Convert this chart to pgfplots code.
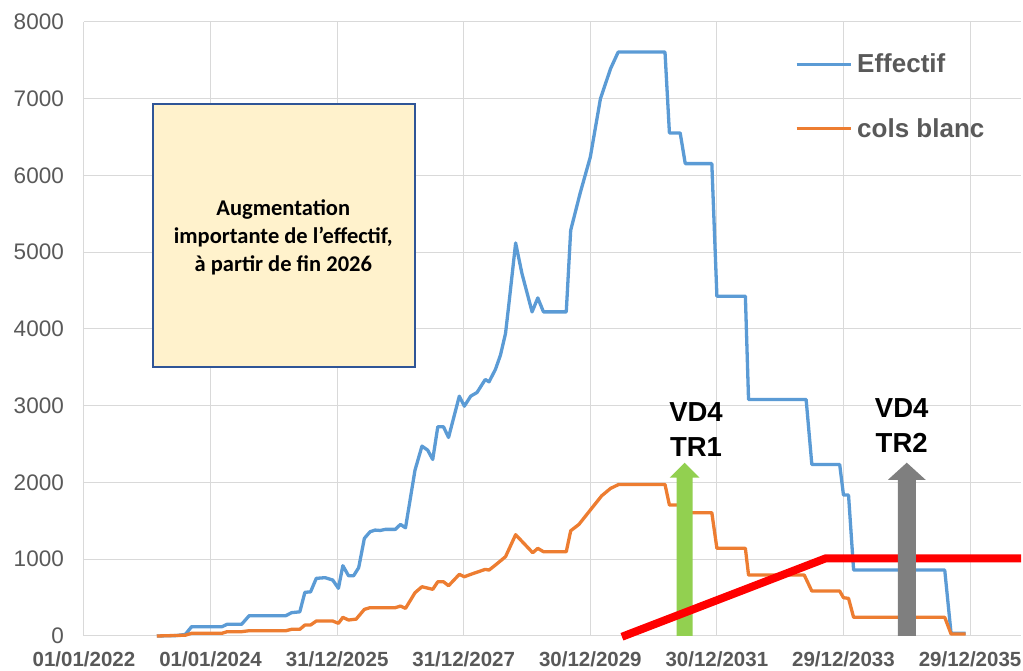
\documentclass[border=0pt]{standalone}
\usepackage{fontspec}
\setmainfont{Liberation Sans}
\newfontfamily\carlito{Carlito}
\usepackage{pgfplots}
\pgfplotsset{compat=1.18}
\definecolor{cblue}{HTML}{5B9BD5}
\definecolor{corange}{HTML}{ED7D31}
\definecolor{cgreen}{HTML}{92D050}
\definecolor{cgray}{HTML}{7F7F7F}
\definecolor{textgray}{HTML}{595959}
\definecolor{gridgray}{HTML}{D9D9D9}
\definecolor{axisgray}{HTML}{BFBFBF}
\definecolor{boxfill}{HTML}{FFF2CC}
\definecolor{boxline}{HTML}{2F5597}
\begin{document}
\begin{tikzpicture}
\useasboundingbox (-84pt,-35pt) rectangle (939pt,636pt);
\begin{axis}[
  scale only axis,
  width=937pt, height=614pt,
  xmin=0, xmax=14.805, ymin=0, ymax=8000,
  clip=false,
  axis line style={draw=none},
  tick style={draw=none},
  major tick length=0pt,
  grid=major,
  major grid style={color=gridgray, line width=1pt},
  xtick={0,2,4,6,8,10,12,14},
  xticklabels={01/01/2022,01/01/2024,31/12/2025,31/12/2027,30/12/2029,30/12/2031,29/12/2033,29/12/2035},
  ytick={0,1000,2000,3000,4000,5000,6000,7000,8000},
  yticklabels={0,1000,2000,3000,4000,5000,6000,7000,8000},
  extra y ticks={0},
  extra y tick labels={},
  extra tick style={grid style={color=axisgray, line width=1pt}},
  xticklabel style={font=\bfseries\fontsize{20.5}{24}\selectfont, text=textgray, anchor=north, inner sep=0pt, yshift=-15pt},
  yticklabel style={font=\fontsize{22.5}{26}\selectfont, text=textgray, anchor=east, inner sep=0pt, xshift=-20pt},
  legend style={draw=none, fill=none, at={(axis description cs:0.7553,0.8787)}, anchor=west,
    font=\bfseries\fontsize{26}{30}\selectfont, text=textgray, row sep=44pt, column sep=5pt,
    nodes={inner sep=0pt}},
  legend cell align=left,
  legend image code/.code={\draw[#1, line width=3.3pt] (0pt,0pt) -- (54pt,0pt);},
]
\addplot[cblue, line width=3.3pt, line join=round] coordinates {
(1.15,0) (1.45,5) (1.6,20) (1.70,121) (2.18,121) (2.26,152) (2.49,152) (2.61,265) (3.19,265) (3.28,304) (3.41,315) (3.49,569) (3.58,575) (3.67,751) (3.81,760) (3.93,729) (4.02,621) (4.09,916) (4.18,785) (4.26,785) (4.34,890) (4.43,1272) (4.52,1358) (4.60,1380) (4.68,1375) (4.76,1389) (4.92,1389) (5.0,1454) (5.08,1410) (5.23,2161) (5.34,2474) (5.43,2422) (5.51,2300) (5.59,2726) (5.68,2726) (5.76,2587) (5.93,3125) (6.01,2995) (6.11,3125) (6.21,3173) (6.34,3342) (6.40,3312) (6.50,3472) (6.58,3659) (6.66,3941) (6.71,4300) (6.82,5121) (6.92,4722) (7.08,4223) (7.17,4405) (7.26,4223) (7.62,4223) (7.69,5286) (7.84,5772) (8.0,6241) (8.16,7001) (8.32,7392) (8.44,7608) (9.18,7608) (9.25,6554) (9.42,6554) (9.50,6155) (9.92,6155) (10.0,4427) (10.45,4427) (10.50,3082) (11.41,3082) (11.50,2235) (11.94,2235) (12.0,1836) (12.08,1836) (12.16,859) (13.60,859) (13.70,35) (13.93,35)
};
\addlegendentry{Effectif}
\addplot[corange, line width=3.3pt, line join=round] coordinates {
(1.15,0) (1.6,10) (1.70,35) (2.18,35) (2.26,56) (2.49,56) (2.61,69) (3.19,69) (3.28,87) (3.41,87) (3.49,143) (3.58,143) (3.67,195) (3.93,195) (4.02,165) (4.09,243) (4.18,208) (4.30,220) (4.43,347) (4.52,369) (4.92,369) (5.0,390) (5.08,360) (5.23,564) (5.34,642) (5.51,608) (5.59,707) (5.68,707) (5.76,655) (5.93,803) (6.01,772) (6.11,803) (6.34,868) (6.40,859) (6.50,924) (6.66,1033) (6.82,1320) (6.95,1207) (7.09,1085) (7.17,1142) (7.26,1098) (7.62,1098) (7.69,1371) (7.82,1454) (8.0,1641) (8.18,1827) (8.32,1923) (8.45,1975) (9.18,1975) (9.25,1706) (9.42,1706) (9.50,1606) (9.92,1606) (10.0,1142) (10.45,1142) (10.50,794) (11.38,794) (11.50,586) (11.94,586) (12.0,499) (12.08,490) (12.16,243) (13.60,243) (13.70,26) (13.93,26)
};
\addlegendentry{cols blanc}
% green arrow
\fill[cgreen] ([xshift=-8pt]axis cs:9.49,0) -- ([xshift=-8pt]axis cs:9.49,2063) -- ([xshift=-15pt]axis cs:9.49,2063) -- (axis cs:9.49,2258) -- ([xshift=15pt]axis cs:9.49,2063) -- ([xshift=8pt]axis cs:9.49,2063) -- ([xshift=8pt]axis cs:9.49,0) -- cycle;
\addplot[red, line width=8pt, forget plot] coordinates {(8.5,-10) (11.72,1012) (14.805,1012)};
% gray arrow
\fill[cgray] ([xshift=-9pt]axis cs:13.0,0) -- ([xshift=-9pt]axis cs:13.0,2033) -- ([xshift=-19pt]axis cs:13.0,2033) -- (axis cs:13.0,2258) -- ([xshift=19pt]axis cs:13.0,2033) -- ([xshift=9pt]axis cs:13.0,2033) -- ([xshift=9pt]axis cs:13.0,0) -- cycle;
\node[font=\bfseries\fontsize{27.5}{35}\selectfont, align=center, inner sep=0pt] at (axis cs:9.67,2694) {VD4\\TR1};
\node[font=\bfseries\fontsize{27.5}{35}\selectfont, align=center, inner sep=0pt] at (axis cs:12.92,2743) {VD4\\TR2};
\draw[boxline, fill=boxfill, line width=2pt] (axis cs:1.085,3501) rectangle (axis cs:5.23,6928);
\node[font=\carlito\bfseries\fontsize{22.5}{28}\selectfont, align=center, inner sep=0pt] at (axis cs:3.149,5195) {Augmentation\\importante de l’effectif,\\à partir de fin 2026};
\end{axis}
\end{tikzpicture}
\end{document}
